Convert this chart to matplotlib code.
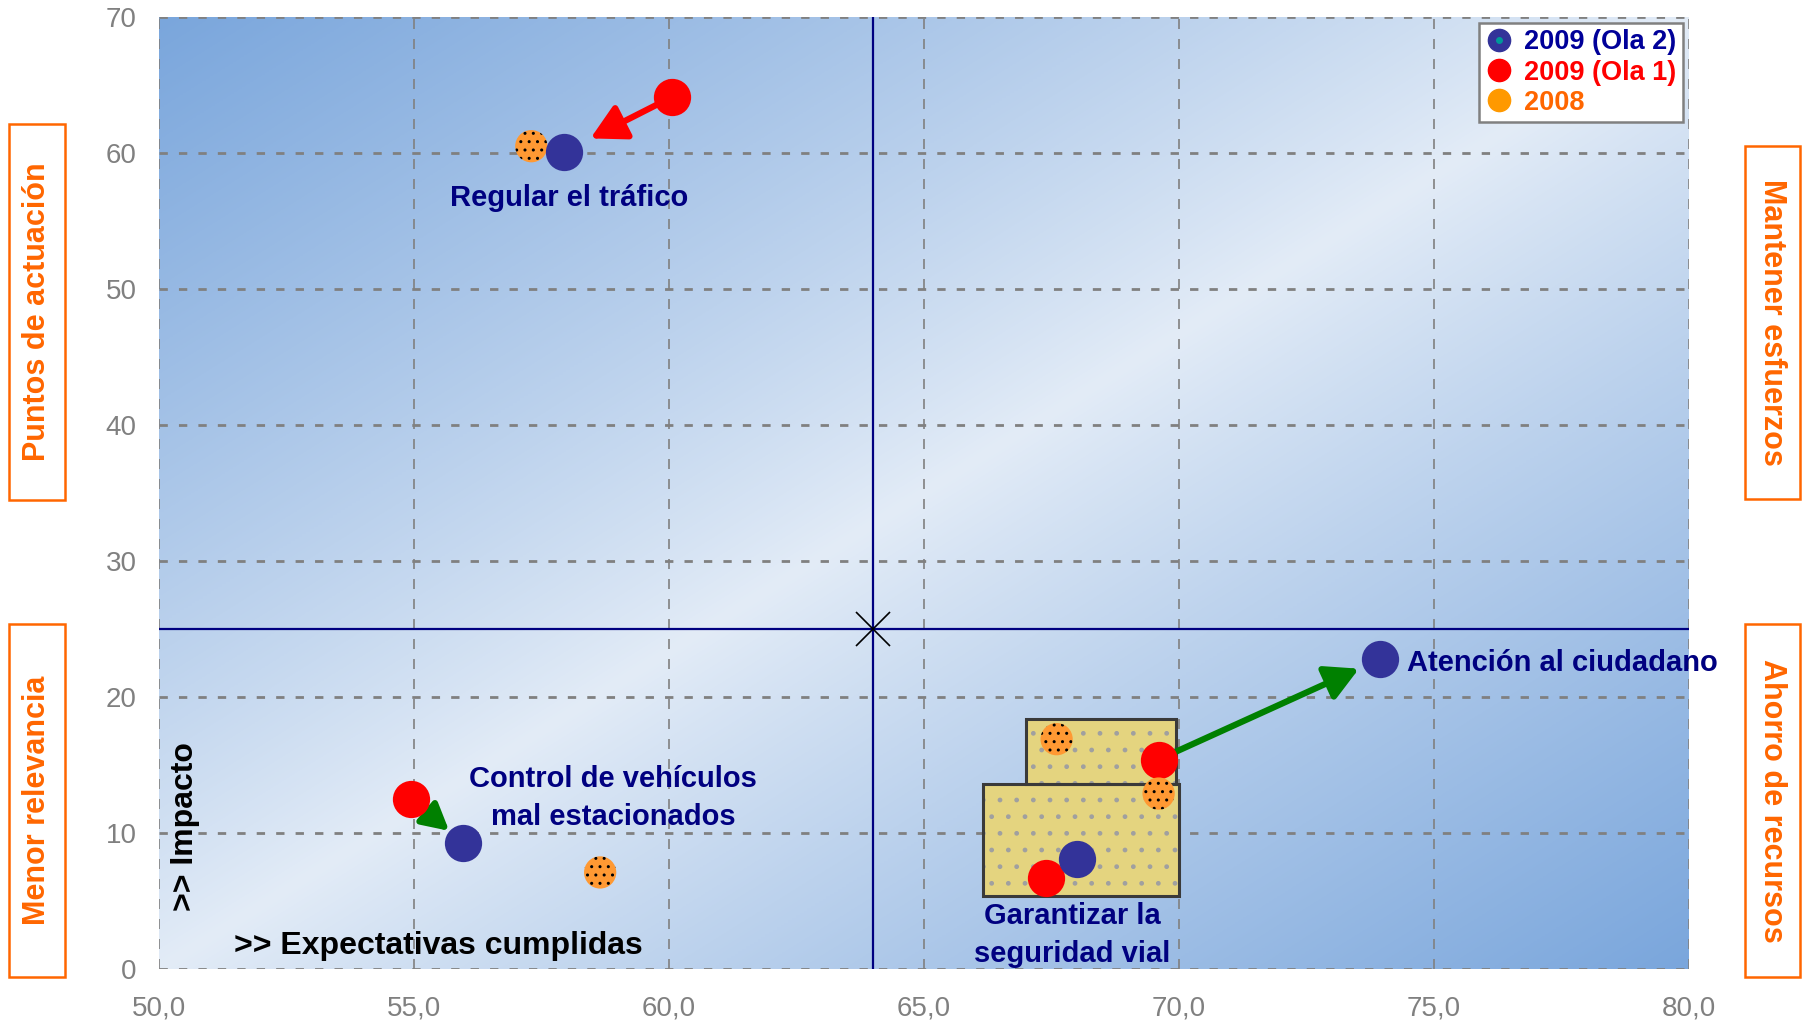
import numpy as np
import matplotlib
matplotlib.use("Agg")
from matplotlib import pyplot as plt
from matplotlib.patches import Rectangle
from matplotlib.lines import Line2D
from matplotlib.colors import LinearSegmentedColormap

plt.rcParams["font.family"] = ["Liberation Sans", "DejaVu Sans"]
plt.rcParams["hatch.color"] = "black"
plt.rcParams["hatch.linewidth"] = 1.0

# --- data ---
indicators = ["Regular el tráfico", "Control de vehículos\nmal estacionados",
              "Atención al ciudadano", "Garantizar la\nseguridad vial"]
ola2_x = [57.95, 55.96, 73.95, 68.0]
ola2_y = [60.1, 9.3, 22.8, 8.1]
ola1_x = [60.05, 54.95, 69.6, 67.4]
ola1_y = [64.1, 12.5, 15.4, 6.7]
y2008_x = [57.3, 58.65, 69.6, 67.6]
y2008_y = [60.5, 7.1, 12.9, 16.9]
series_labels = ["2009 (Ola 2)", "2009 (Ola 1)", "2008"]
x_ticks = [50, 55, 60, 65, 70, 75, 80]
y_ticks = [0, 10, 20, 30, 40, 50, 60, 70]
center_x, center_y = 64, 25
# yellow highlight boxes (x0, y0, x1, y1)
boxes = [(66.15, 5.4, 70.0, 13.6), (67.0, 13.6, 69.95, 18.4)]

# layout / style
label_pos = [(58.04, 56.7, "center"), (58.9, 12.6, "center"),
             (74.47, 22.5, "left"), (67.9, 2.5, "center")]
arrow_colors = ["red", "green", "green", None]
arrow_shrink = [21, 13, 17, 0]
arrow_scale = [42, 32, 40, 0]
NAVY = "#000080"
ORANGE_TXT = "#ff6600"

W, H = 1806, 1025
fig = plt.figure(figsize=(W / 100, H / 100), dpi=100)
ax = fig.add_axes([159 / W, 1 - 969 / H, 1530 / W, 952 / H])
ax.set_xlim(50, 80)
ax.set_ylim(0, 70)

# gradient background
gx, gy = np.meshgrid(np.linspace(0, 1, 400), np.linspace(0, 1, 400))
t = np.abs(gx - gy) ** 0.9
cmap = LinearSegmentedColormap.from_list("bg", ["#e3ecf7", "#7aa6dc"])
ax.imshow(t, extent=[50, 80, 0, 70], origin="lower", cmap=cmap,
          aspect="auto", zorder=0, interpolation="bilinear")

# grid
ax.set_xticks(x_ticks)
ax.set_yticks(y_ticks)
ax.set_xticklabels([f"{v:.1f}".replace(".", ",") for v in x_ticks])
ax.set_yticklabels([str(v) for v in y_ticks])
ax.xaxis.grid(True, color="#808080", linestyle=(0, (6, 6)), linewidth=1.2)
ax.yaxis.grid(True, color="#808080", linestyle=(0, (3, 4)), linewidth=2)
ax.set_axisbelow(True)
for s in ax.spines.values():
    s.set_visible(False)
ax.tick_params(length=0, colors="#808080", labelsize=20)
ax.tick_params(axis="x", pad=19)
ax.tick_params(axis="y", pad=16)

# crosshair
ax.axvline(center_x, color="#000080", lw=1.6, zorder=1.5)
ax.axhline(center_y, color="#000080", lw=1.6, zorder=1.5)
ax.plot([center_x], [center_y], marker="x", ms=24, mew=1.2, color="black", zorder=1.6)

# yellow boxes
for x0, y0, x1, y1 in boxes:
    ax.add_patch(Rectangle((x0, y0), x1 - x0, y1 - y0, facecolor="#e4d47f",
                           edgecolor="#a0a0a0", hatch=".", lw=0, zorder=1.8))
    ax.add_patch(Rectangle((x0, y0), x1 - x0, y1 - y0, fill=False,
                           edgecolor="#3a3a3a", lw=2.2, zorder=1.9))

# arrows
for i in range(len(indicators)):
    if arrow_colors[i] is None:
        continue
    ax.annotate("", xy=(ola2_x[i], ola2_y[i]), xytext=(ola1_x[i], ola1_y[i]),
                arrowprops=dict(arrowstyle="-|>,head_length=0.5,head_width=0.27",
                                color=arrow_colors[i], lw=4.5,
                                mutation_scale=arrow_scale[i],
                                shrinkA=0, shrinkB=arrow_shrink[i]),
                zorder=2)

# points
ax.scatter(ola1_x, ola1_y, s=720, color="#ff0000", linewidths=0, zorder=3)
ax.scatter(y2008_x, y2008_y, s=540, facecolors="#ff9933", edgecolors="black",
           linewidths=0, hatch="..", zorder=3.5)
ax.scatter(ola2_x, ola2_y, s=720, color="#333399", linewidths=0, zorder=4)

# point labels
for name, (lx, ly, ha) in zip(indicators, label_pos):
    ax.text(lx, ly, name, ha=ha, va="center", color=NAVY, fontsize=21,
            fontweight="bold", linespacing=1.45, clip_on=False, zorder=5)

ax.text(51.47, 1.7, ">> Expectativas cumplidas", ha="left", va="center",
        fontsize=23, fontweight="bold", color="black", zorder=5)
ax.text(50.5, 10.5, ">> Impacto", ha="center", va="center", rotation=90,
        fontsize=23, fontweight="bold", color="black", zorder=5)

# legend
h_ola2 = (Line2D([], [], marker="o", ls="", ms=16, color="#333399"),
          Line2D([], [], marker="o", ls="", ms=4, color="#009999"))
h_ola1 = Line2D([], [], marker="o", ls="", ms=16, color="#ff0000")
h_2008 = Line2D([], [], marker="o", ls="", ms=16, color="#ff9900")
leg = ax.legend([h_ola2, h_ola1, h_2008], series_labels, loc="upper right",
                bbox_to_anchor=(0.996, 0.994), borderaxespad=0, fancybox=False,
                framealpha=1, edgecolor="#808080", handlelength=1.0,
                handletextpad=0.4, labelspacing=0.15, borderpad=0.25,
                prop=dict(size=19.5, weight="bold"))
leg.get_frame().set_linewidth(1.8)
for txt, c in zip(leg.get_texts(), ["#000099", "#ff0000", ORANGE_TXT]):
    txt.set_color(c)
leg.set_zorder(6)

# side quadrant labels
side = [(9, 124, 56, 376, "Puntos de actuación", 90),
        (9, 624, 56, 353, "Menor relevancia", 90),
        (1745, 146, 55, 353, "Mantener esfuerzos", -90),
        (1745, 624, 55, 353, "Ahorro de recursos", -90)]
for x0, y0, w, h, txt, rot in side:
    fig.add_artist(Rectangle((x0 / W, 1 - (y0 + h) / H), w / W, h / H,
                             transform=fig.transFigure, fill=False,
                             edgecolor=ORANGE_TXT, lw=1.8))
    fig.text((x0 + w / 2) / W, 1 - (y0 + h / 2) / H, txt, rotation=rot,
             ha="center", va="center", color=ORANGE_TXT, fontsize=22,
             fontweight="bold")

fig.savefig("out.png", dpi=100)
